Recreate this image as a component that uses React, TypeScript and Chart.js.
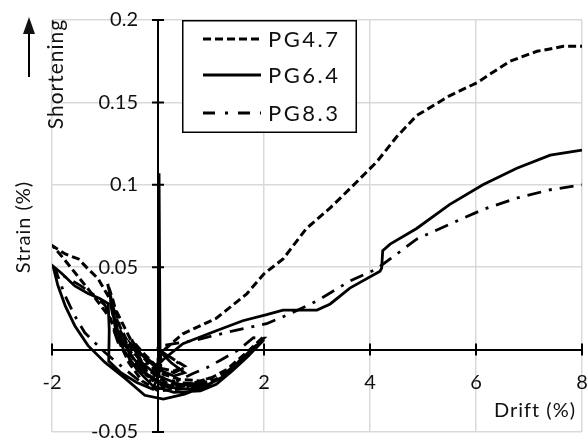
import React, { useEffect, useRef } from 'react';
import { Chart, registerables } from 'chart.js';

Chart.register(...registerables);

// ---- data ----
const X_TICKS = [-2, 0, 2, 4, 6, 8];
const Y_TICKS = [-0.05, 0, 0.05, 0.1, 0.15, 0.2];
const SERIES_NAMES = ['PG4.7', 'PG6.4', 'PG8.3'];
const X_TITLE = 'Drift (%)';
const Y_TITLE = 'Strain (%)';
const ARROW_TITLE = 'Shortening';

const pg47X = [0, 0.25, 0.5, 0.3, 0, -0.25, -0.5, -0.3, 0, 0.4, 0.8, 1.0, 0.6, 0.2, -0.2, -0.5, -0.72, -0.85, -0.95, -0.85, -0.7, -0.5, -0.2, 0.2, 0.7, 1.1, 1.4, 1.7, 2.0, 1.7, 1.3, 0.9, 0.4, 0, -0.3, -0.55, -0.75, -0.9, -1.25, -1.55, -1.8, -1.98, -1.75, -1.5, -1.32, -1.13, -0.94, -0.81, -0.62, -0.43, -0.25, -0.05, 0.05, 0.05, 0.47, 1.1, 1.68, 2.0, 2.36, 2.8, 3.25, 3.62, 4.13, 4.5, 4.88, 5.5, 6.02, 6.64, 7.15, 7.65, 8];
const pg47Y = [0, -0.005, -0.01, -0.013, -0.011, -0.003, 0.006, -0.004, -0.014, -0.018, -0.019, -0.017, -0.021, -0.021, -0.012, 0.0, 0.014, 0.03, 0.04, 0.026, 0.01, -0.004, -0.016, -0.022, -0.022, -0.018, -0.01, -0.002, 0.008, -0.001, -0.012, -0.019, -0.024, -0.025, -0.019, -0.008, 0.006, 0.019, 0.034, 0.046, 0.056, 0.0627, 0.058, 0.055, 0.049, 0.043, 0.0325, 0.025, 0.0127, 0.0006, -0.0114, -0.021, -0.012, -0.002, 0.0096, 0.019, 0.034, 0.046, 0.055, 0.0735, 0.086, 0.0976, 0.114, 0.129, 0.142, 0.154, 0.162, 0.175, 0.181, 0.184, 0.184];

const pg64X = [0, 0.25, 0.5, 0.3, 0, -0.25, -0.5, -0.3, 0, 0.4, 0.75, 1.0, 0.6, 0.2, -0.2, -0.5, -0.75, -0.86, -0.92, -0.88, -0.8, -0.65, -0.4, -0.1, 0.3, 0.8, 1.1, 1.4, 1.7, 2.0, 1.8, 1.5, 1.2, 0.9, 0.5, 0.1, -0.25, -0.62, -1.0, -1.32, -1.57, -1.75, -1.89, -1.98, -1.81, -1.57, -1.32, -1.1, -0.94, -0.92, -0.93, -0.7, -0.4, -0.1, 0.02, 0.02, 0.04, 0.1, 0.47, 1.1, 1.6, 2.05, 2.36, 3.0, 3.25, 3.62, 4.19, 4.22, 4.24, 4.38, 4.88, 5.5, 6.13, 6.77, 7.4, 8];
const pg64Y = [0, -0.008, -0.014, -0.016, -0.012, -0.005, 0.003, -0.008, -0.016, -0.021, -0.022, -0.021, -0.024, -0.023, -0.015, -0.004, 0.01, 0.025, 0.036, 0.028, 0.012, 0.0, -0.012, -0.022, -0.026, -0.025, -0.021, -0.013, -0.004, 0.006, 0.001, -0.008, -0.017, -0.022, -0.027, -0.03, -0.0277, -0.0175, -0.0078, 0.0024, 0.0145, 0.0265, 0.039, 0.0506, 0.046, 0.0386, 0.034, 0.031, 0.028, 0.012, -0.007, -0.014, -0.02, -0.024, -0.015, 0.107, -0.008, -0.006, 0.0036, 0.0114, 0.0175, 0.0212, 0.024, 0.024, 0.0277, 0.0373, 0.0476, 0.0494, 0.06, 0.064, 0.0735, 0.088, 0.1, 0.11, 0.118, 0.121];

const pg83X = [0, 0.25, 0.5, 0.3, 0, -0.25, -0.5, -0.3, 0, 0.4, 0.8, 1.0, 0.6, 0.2, -0.2, -0.5, -0.72, -0.86, -0.94, -0.86, -0.7, -0.45, -0.15, 0.3, 0.8, 1.2, 1.5, 1.8, 2.0, 1.8, 1.5, 1.17, 0.92, 0.66, 0.3, 0, -0.35, -0.62, -1.0, -1.19, -1.38, -1.57, -1.75, -1.94, -1.8, -1.47, -1.2, -1.0, -0.88, -0.75, -0.5, -0.2, 0, 0, 0.66, 1.42, 2.05, 2.49, 3.0, 3.62, 4.13, 4.38, 4.88, 5.5, 6.13, 6.77, 7.4, 8];
const pg83Y = [0, -0.005, -0.011, -0.014, -0.011, -0.004, 0.004, -0.006, -0.016, -0.02, -0.021, -0.019, -0.022, -0.022, -0.013, -0.002, 0.012, 0.026, 0.035, 0.022, 0.006, -0.008, -0.019, -0.024, -0.023, -0.016, -0.008, 0.001, 0.007, 0.0072, -0.0006, -0.0066, -0.011, -0.0145, -0.02, -0.024, -0.019, -0.012, -0.0018, 0.0042, 0.0102, 0.0205, 0.0325, 0.049, 0.045, 0.039, 0.033, 0.027, 0.016, 0.004, -0.008, -0.016, -0.008, 0.002, 0.0054, 0.0114, 0.0157, 0.0217, 0.0295, 0.0416, 0.049, 0.055, 0.067, 0.076, 0.085, 0.092, 0.097, 0.1];

const FONT = 'Lato, "Open Sans", sans-serif';
const TEXT = '#111';

export default function App() {
  const ref = useRef<HTMLCanvasElement>(null);

  useEffect(() => {
    document.body.style.margin = '0';
    const canvas = ref.current;
    if (!canvas) return;

    const toPts = (xs: number[], ys: number[]) => xs.map((x, i) => ({ x, y: ys[i] }));

    const crossTicks = {
      id: 'crossTicks',
      beforeDatasetsDraw(chart: any) {
        const { ctx, scales } = chart;
        const xs = scales.x, ys = scales.y;
        const x0 = xs.getPixelForValue(0);
        const y0 = ys.getPixelForValue(0);
        ctx.save();
        ctx.strokeStyle = '#000';
        ctx.lineWidth = 2;
        ctx.beginPath();
        for (const t of X_TICKS) {
          if (t === 0) continue;
          const px = xs.getPixelForValue(t);
          ctx.moveTo(px, y0 - 6);
          ctx.lineTo(px, y0 + 6);
        }
        for (const t of Y_TICKS) {
          if (t === 0) continue;
          const py = ys.getPixelForValue(t);
          ctx.moveTo(x0 - 6, py);
          ctx.lineTo(x0 + 6, py);
        }
        ctx.stroke();
        ctx.restore();
      },
    };

    const decorations = {
      id: 'decorations',
      afterDraw(chart: any) {
        const { ctx } = chart;
        ctx.save();
        ctx.fillStyle = TEXT;
        ctx.strokeStyle = '#000';

        // arrow
        ctx.lineWidth = 2;
        ctx.beginPath();
        ctx.moveTo(29, 77);
        ctx.lineTo(29, 32);
        ctx.stroke();
        ctx.beginPath();
        ctx.moveTo(29, 17);
        ctx.lineTo(23, 34);
        ctx.lineTo(35, 34);
        ctx.closePath();
        ctx.fill();

        // rotated titles
        const rotText = (t: string, x: number, y: number, size: number, spacing: number) => {
          ctx.save();
          ctx.translate(x, y);
          ctx.rotate(-Math.PI / 2);
          ctx.font = `${size}px ${FONT}`;
          (ctx as any).letterSpacing = `${spacing}px`;
          ctx.textAlign = 'center';
          ctx.textBaseline = 'middle';
          ctx.fillText(t, 0, 0);
          ctx.restore();
        };
        rotText(ARROW_TITLE, 56, 74, 21, 1);
        rotText(Y_TITLE, 24, 227, 20, 1);

        // x title
        ctx.font = `20px ${FONT}`;
        (ctx as any).letterSpacing = '1px';
        ctx.textAlign = 'center';
        ctx.textBaseline = 'middle';
        ctx.fillText(X_TITLE, 535, 411);

        // legend
        const bx = 182, by = 20, bw = 175, bh = 113;
        ctx.fillStyle = '#fff';
        ctx.fillRect(bx, by, bw, bh);
        ctx.lineWidth = 1.5;
        ctx.strokeStyle = '#000';
        ctx.strokeRect(bx + 0.75, by + 0.75, bw - 1.5, bh - 1.5);
        const rows = [39, 75, 113];
        chart.data.datasets.forEach((ds: any, i: number) => {
          const ly = rows[i];
          ctx.save();
          ctx.strokeStyle = '#000';
          ctx.lineWidth = 3;
          ctx.setLineDash(ds.legendDash || []);
          ctx.beginPath();
          ctx.moveTo(203, ly);
          ctx.lineTo(261, ly);
          ctx.stroke();
          ctx.restore();
          ctx.fillStyle = TEXT;
          ctx.font = `22px ${FONT}`;
          (ctx as any).letterSpacing = '2.5px';
          ctx.textAlign = 'left';
          ctx.textBaseline = 'middle';
          ctx.fillText(ds.label, 268, ly + 1);
        });
        (ctx as any).letterSpacing = '0px';
        ctx.restore();
      },
    };

    const lineStyle = { borderColor: '#000', pointRadius: 0, tension: 0, fill: false };

    const chart = new Chart(canvas, {
      type: 'line',
      data: {
        datasets: [
          { ...lineStyle, label: SERIES_NAMES[0], data: toPts(pg47X, pg47Y), borderWidth: 3, borderDash: [8, 4], legendDash: [8, 4] } as any,
          { ...lineStyle, label: SERIES_NAMES[1], data: toPts(pg64X, pg64Y), borderWidth: 2.8 } as any,
          { ...lineStyle, label: SERIES_NAMES[2], data: toPts(pg83X, pg83Y), borderWidth: 2.8, borderDash: [14, 8, 3, 8], legendDash: [12, 10, 3, 10] } as any,
        ],
      },
      options: {
        responsive: false,
        animation: false,
        events: [],
        layout: { padding: { left: 52, right: 5, top: 20, bottom: 7 } },
        plugins: { legend: { display: false }, tooltip: { enabled: false } },
        scales: {
          x: {
            type: 'linear',
            min: -2,
            max: 8,
            position: { y: 0 } as any,
            afterFit: (s: any) => { s.height = 0; s.paddingLeft = 0; s.paddingRight = 0; s.paddingTop = 0; s.paddingBottom = 0; },
            ticks: {
              stepSize: 2,
              autoSkip: false,
              maxRotation: 0,
              padding: 21,
              color: TEXT,
              font: { family: FONT, size: 20 },
              callback: (v: any) => (Number(v) === 0 ? '' : String(v)),
            },
            grid: { color: '#d9d9d9', lineWidth: 1.5, drawTicks: false },
            border: { color: '#000', width: 2 },
          },
          y: {
            type: 'linear',
            min: -0.05,
            max: 0.2,
            position: { x: 0 } as any,
            afterFit: (s: any) => { s.width = 0; s.paddingLeft = 0; s.paddingRight = 0; s.paddingTop = 0; s.paddingBottom = 0; },
            ticks: {
              stepSize: 0.05,
              autoSkip: false,
              padding: 21,
              color: TEXT,
              font: { family: FONT, size: 20 },
              // trailing spaces keep the right-aligned label clear of the centred axis
              callback: (v: any) => String(Math.round(Number(v) * 100) / 100) + '\u2002\u2002',
            },
            grid: { color: '#d9d9d9', lineWidth: 1.5, drawTicks: false },
            border: { color: '#000', width: 2 },
          },
        },
      },
      plugins: [crossTicks, decorations],
    } as any);

    return () => chart.destroy();
  }, []);

  return (
    <div style={{ width: 587, height: 439, background: '#fff' }}>
      <canvas ref={ref} width={587} height={439} style={{ display: 'block' }} />
    </div>
  );
}
